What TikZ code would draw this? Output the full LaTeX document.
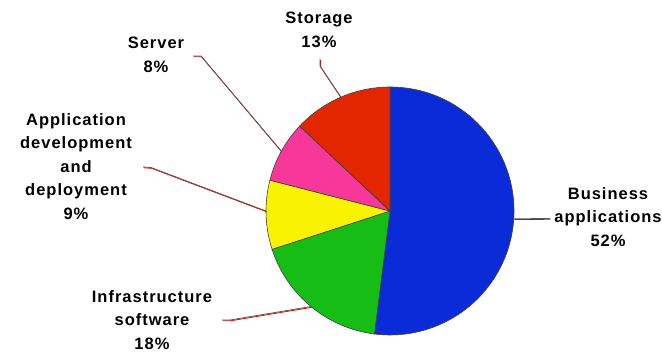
\documentclass[tikz,border=0pt]{standalone}
\usepackage{fontspec}
\newfontfamily\lblfont[LetterSpace=6]{Liberation Sans}
\usetikzlibrary{positioning}
\definecolor{bizblue}{HTML}{0B2BD9}
\definecolor{infgreen}{HTML}{15BD15}
\definecolor{appyellow}{HTML}{F9F200}
\definecolor{srvpink}{HTML}{F7389A}
\definecolor{stored}{HTML}{E42600}
\tikzset{
  slice/.style = {draw=black!75, line width=0.6pt},
  lbl/.style = {align=center, inner sep=0pt, anchor=north,
    font=\lblfont\bfseries\fontsize{16.5}{23.5}\selectfont},
  leader/.style = {draw=black!65, line width=0.8pt,
    preaction={draw=red!90!black, line width=0.8pt,
      transform canvas={shift={(0.6pt,-0.8pt)}}}}
}

\begin{document}
\begin{tikzpicture}[x=1pt,y=1pt]
\useasboundingbox (0,0) rectangle (662,-353);
\coordinate (c) at (390,-211);

% slices, clockwise from the top
\filldraw[slice, fill=bizblue]  (c) -- ([shift={(90:124)}]c) arc[start angle=90, end angle=-97.2, radius=124] -- cycle;
\filldraw[slice, fill=infgreen] (c) -- ([shift={(-97.2:124)}]c) arc[start angle=-97.2, end angle=-162, radius=124] -- cycle;
\filldraw[slice, fill=appyellow] (c) -- ([shift={(-162:124)}]c) arc[start angle=-162, end angle=-194.4, radius=124] -- cycle;
\filldraw[slice, fill=srvpink]  (c) -- ([shift={(165.6:124)}]c) arc[start angle=165.6, end angle=136.8, radius=124] -- cycle;
\filldraw[slice, fill=stored]   (c) -- ([shift={(136.8:124)}]c) arc[start angle=136.8, end angle=90, radius=124] -- cycle;

% labels
\node[lbl] (biz) at (608,-187) {Business\\applications\\52\%};
\node[lbl] (inf) at (152,-290) {Infrastructure\\software\\18\%};
\node[lbl] (app) at (76,-113) {Application\\development\\and\\deployment\\9\%};
\node[lbl] (srv) at (156,-37) {Server\\8\%};
\node[lbl] (sto) at (319,-12) {Storage\\13\%};

% leader lines
\coordinate (biz-p) at ([shift={(-3.6:124)}]c);
\coordinate (inf-p) at ([shift={(-129.6:124)}]c);
\coordinate (app-p) at ([shift={(180:124)}]c);
\coordinate (srv-p) at ([shift={(151.2:124)}]c);
\coordinate (sto-p) at ([shift={(113.4:124)}]c);

\draw[leader] (biz-p) -- (550,-218.5);
\draw[leader] (222,-320) -- (230,-320) -- (inf-p);
\draw[leader] (143,-167) -- (151,-167.5) -- (app-p);
\draw[leader] (193,-56) -- (201,-56) -- (srv-p);
\draw[leader] (320,-59) -- (320,-66) -- (sto-p);
\end{tikzpicture}
\end{document}
